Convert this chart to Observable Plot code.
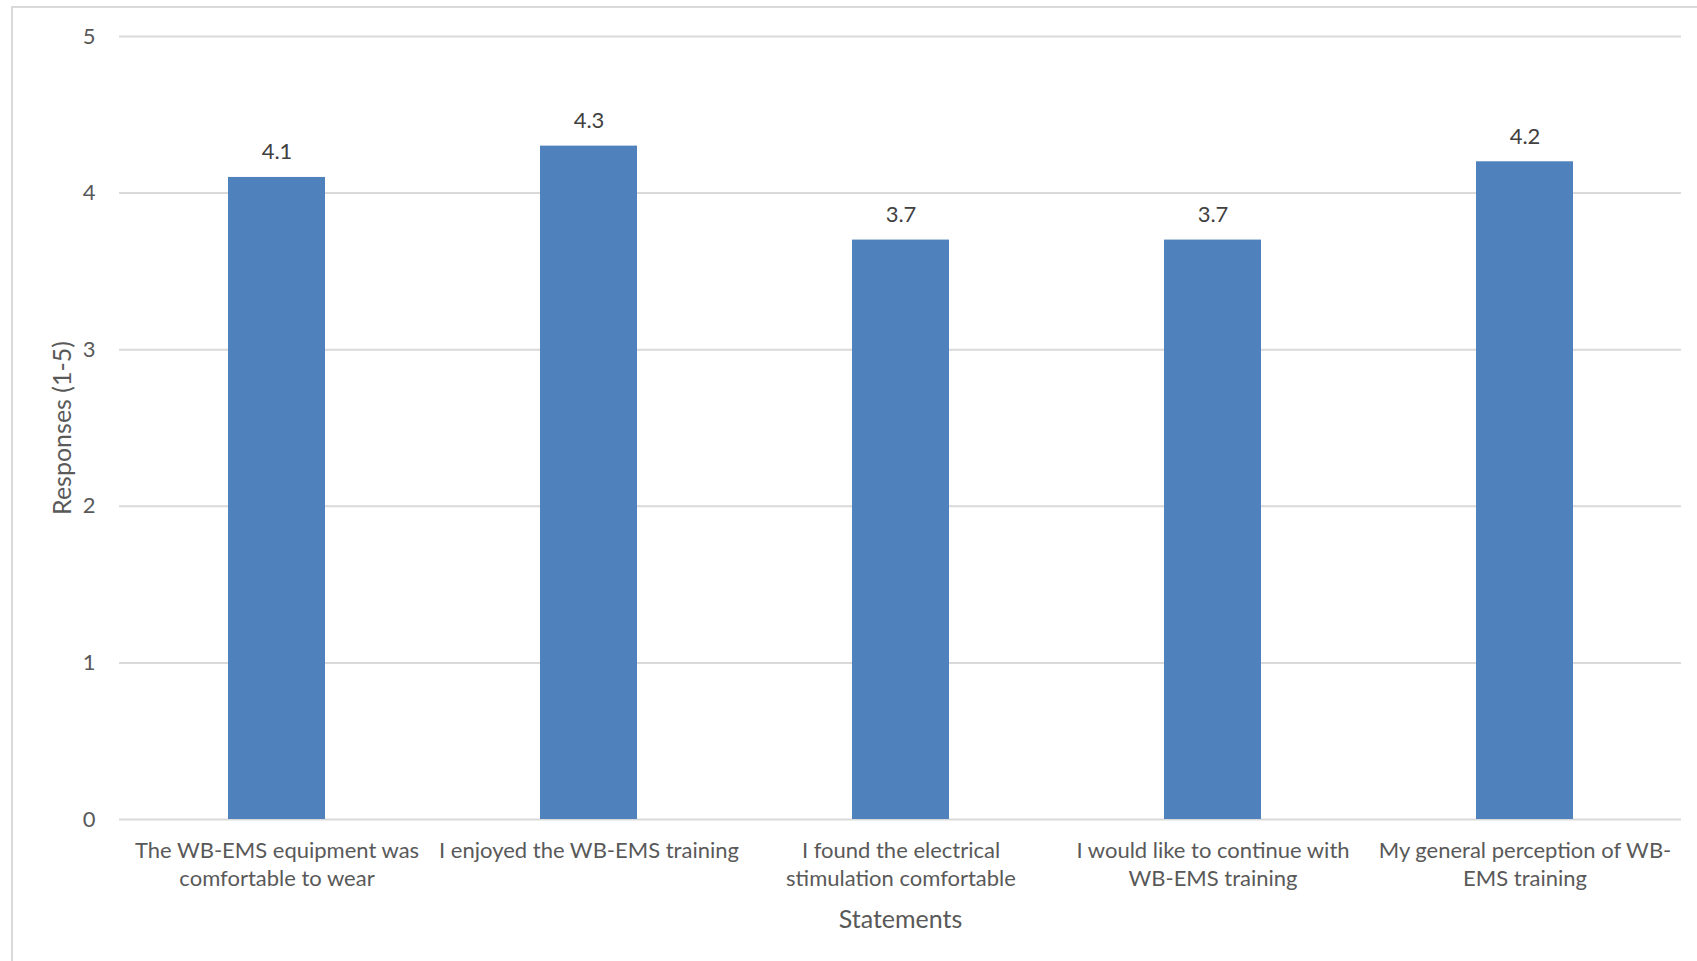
<!DOCTYPE html>
<html>
<head>
<meta charset="utf-8">
<script src="https://cdn.jsdelivr.net/npm/d3@7"></script>
<script src="https://cdn.jsdelivr.net/npm/@observablehq/plot@0.6"></script>
<style>
  html, body { margin: 0; padding: 0; background: #fff; overflow: hidden; }
  #wrap { position: relative; width: 1697px; height: 961px; }
  #frame { position: absolute; left: 11px; top: 6px; width: 1720px; height: 1000px;
           border: 2px solid #d9d9d9; box-sizing: border-box; }
  #chart { position: absolute; left: 0; top: 0; }
</style>
</head>
<body>
<div id="wrap"><div id="frame"></div><div id="chart"></div></div>
<script>
const statements = [
  "The WB-EMS equipment was\ncomfortable to wear",
  "I enjoyed the WB-EMS training",
  "I found the electrical\nstimulation comfortable",
  "I would like to continue with\nWB-EMS training",
  "My general perception of WB-\nEMS training"
];
const responses = [4.1, 4.3, 3.7, 3.7, 4.2];
const yTicks = [0, 1, 2, 3, 4, 5];
const xTitle = "Statements";
const yTitle = "Responses (1-5)";

const data = statements.map((s, i) => ({statement: s, value: responses[i]}));
const FONT = "Lato, 'Open Sans', sans-serif";
const FS = 22;
const TFS = 25;

const chart = Plot.plot({
  width: 1697,
  height: 961,
  marginLeft: 119,
  marginRight: 16,
  marginTop: 36,
  marginBottom: 142,
  style: {fontFamily: FONT, fontSize: FS + "px", color: "#595959", background: "transparent"},
  x: {domain: statements, paddingInner: 0.69, paddingOuter: 0.345, label: null},
  y: {domain: [0, 5], label: null},
  marks: [
    Plot.gridY(yTicks, {stroke: "#d9d9d9", strokeOpacity: 1, strokeWidth: 2}),
    Plot.barY(data, {x: "statement", y: "value", fill: "#4f81bd"}),
    Plot.text(data, {x: "statement", y: "value", text: d => d.value.toFixed(1), dy: -25,
      fill: "#404040", fontSize: FS}),
    Plot.axisX({tickSize: 0, tickPadding: 19, fontSize: FS, lineHeight: 28 / FS, fill: "#595959", label: null}),
    Plot.axisY(yTicks, {tickSize: 0, tickPadding: 24, fontSize: FS, fill: "#595959", label: null, tickFormat: d => String(d)}),
    Plot.text([xTitle], {frameAnchor: "bottom", lineAnchor: "middle", dy: 100, fontSize: TFS, fill: "#595959"}),
    Plot.text([yTitle], {frameAnchor: "left", textAnchor: "middle", lineAnchor: "middle", rotate: -90, dx: -57, fontSize: TFS, fill: "#595959"})
  ]
});
document.getElementById("chart").appendChild(chart);
</script>
</body>
</html>
